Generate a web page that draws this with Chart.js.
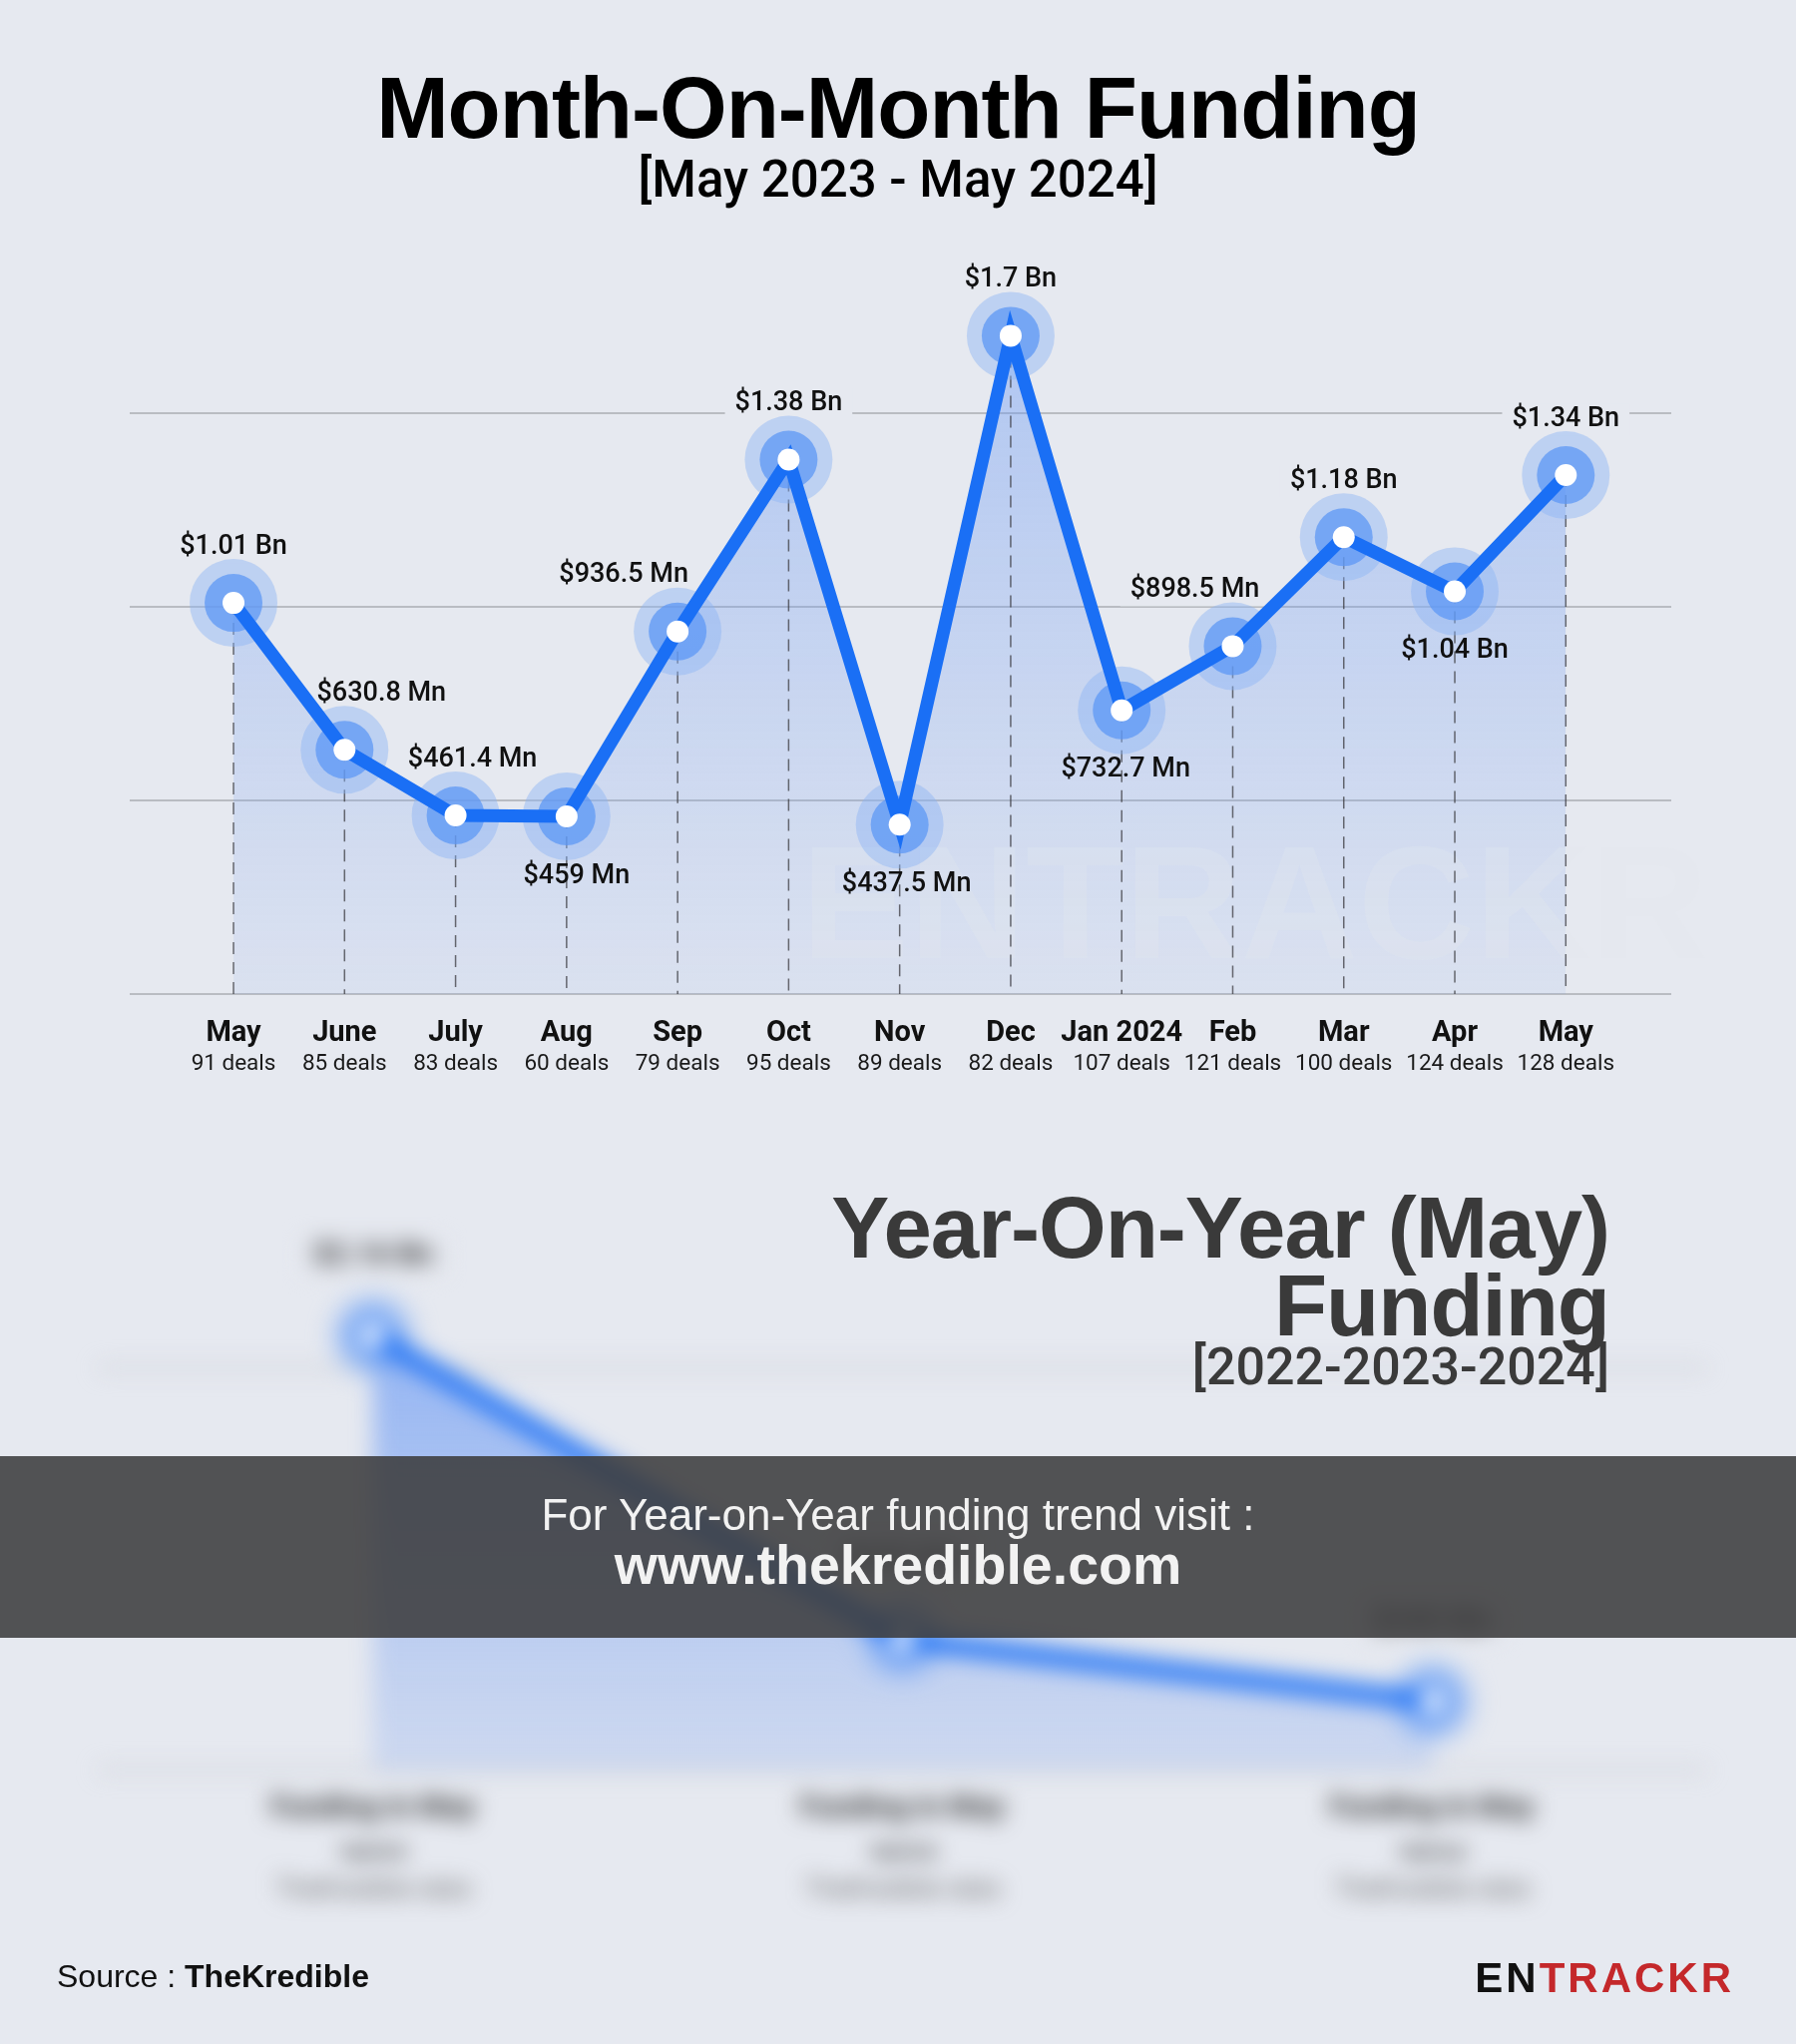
<!DOCTYPE html>
<html>
<head>
<meta charset="utf-8">
<script src="https://cdn.jsdelivr.net/npm/chart.js@4.4.1/dist/chart.umd.min.js"></script>
<style>
  html, body { margin: 0; padding: 0; }
  body { width: 1800px; height: 2048px; background: #e6e9f0; position: relative; overflow: hidden; font-family: 'Liberation Sans', Arial, sans-serif; }
  canvas { position: absolute; left: 0; }
  .abs { position: absolute; white-space: nowrap; }
  #t1 { top: 64px; left: 0; width: 1800px; text-align: center; font-size: 87px; line-height: 87px; font-weight: bold; letter-spacing: -1px; color: #000; }
  #t2 { top: 154px; left: 0; width: 1800px; text-align: center; font-family: Roboto, sans-serif; font-size: 51px; line-height: 51px; font-weight: 500; color: #000; }
  #yoy { top: 1150px; filter: blur(11px); }
  #yt { top: 1191px; right: 187px; text-align: right; font-size: 87px; line-height: 78px; font-weight: bold; letter-spacing: -1px; color: #3a3a3a; }
  #ys { top: 1344px; right: 187px; text-align: right; font-family: Roboto, sans-serif; font-size: 52px; line-height: 52px; font-weight: 500; color: #3a3a3a; }
  #banner { top: 1459px; left: 0; width: 1800px; height: 182px; background: rgba(60, 60, 62, 0.88); }
  #b1 { top: 1496px; left: 0; width: 1800px; text-align: center; font-size: 44px; line-height: 44px; color: #f2f2f2; }
  #b2 { top: 1541px; left: 0; width: 1800px; text-align: center; font-size: 55.5px; line-height: 55.5px; font-weight: bold; color: #f2f2f2; }
  #src { top: 1964px; left: 57px; font-size: 32px; line-height: 32px; color: #111; }
  #logo { top: 1961px; right: 62px; font-size: 42px; line-height: 42px; font-weight: bold; letter-spacing: 3px; color: #111; }
  #logo span { color: #c4282b; }
</style>
</head>
<body>
<div id="t1" class="abs">Month-On-Month Funding</div>
<div id="t2" class="abs">[May 2023 - May 2024]</div>
<canvas id="mom" width="1800" height="1120" style="top:0"></canvas>
<canvas id="yoy" width="1800" height="800"></canvas>
<div id="yt" class="abs">Year-On-Year (May)<br>Funding</div>
<div id="ys" class="abs">[2022-2023-2024]</div>
<div id="banner" class="abs"></div>
<div id="b1" class="abs">For Year-on-Year funding trend visit :</div>
<div id="b2" class="abs">www.thekredible.com</div>
<div id="src" class="abs">Source : <b>TheKredible</b></div>
<div id="logo" class="abs">EN<span>TRACKR</span></div>
<script>
// month-on-month data (USD Mn)
const months = ['May', 'June', 'July', 'Aug', 'Sep', 'Oct', 'Nov', 'Dec', 'Jan 2024', 'Feb', 'Mar', 'Apr', 'May'];
const deals = [91, 85, 83, 60, 79, 95, 89, 82, 107, 121, 100, 124, 128];
const fundingMn = [1010, 630.8, 461.4, 459, 936.5, 1380, 437.5, 1700, 732.7, 898.5, 1180, 1040, 1340];
const gridValues = [0, 500, 1000, 1500];

// year-on-year (blurred teaser)
const yoyYears = ['2022', '2023', '2024'];
const yoyFundingMn = [2160, 650, 340];

const bgColor = '#e6e9f0';
const lineBlue = '#1a6ff5';

function labelText(v) {
    return v >= 1000 ? '$' + parseFloat((v / 1000).toFixed(2)) + ' Bn' : '$' + v + ' Mn';
}

// where each value label sits: [x shift, above(-1) / below(1)]
const momLabelPlace = [[0, -1], [37, -1], [17, -1], [10, 1], [-54, -1], [0, -1], [7, 1], [0, -1], [4, 1], [-38, -1], [0, -1], [0, 1], [0, -1]];

function fillGradient(topAlpha, botAlpha) {
    return function (ctx) {
        const chart = ctx.chart;
        const area = chart.chartArea;
        if (!area) return 'rgba(110,160,245,0.3)';
        const g = chart.ctx.createLinearGradient(0, area.top + 100, 0, area.bottom);
        g.addColorStop(0, 'rgba(100,150,245,' + topAlpha + ')');
        g.addColorStop(1, 'rgba(120,160,240,' + botAlpha + ')');
        return g;
    };
}

function decorPlugin(opts) {
    return {
        id: 'decor',
        beforeDatasetsDraw(chart) {
            const c = chart.ctx;
            const meta = chart.getDatasetMeta(0);
            const bottom = chart.chartArea.bottom;
            c.save();
            if (opts.watermark) {
                c.font = 'bold 162px "Liberation Sans"';
                c.fillStyle = 'rgba(228,230,235,0.26)';
                c.textBaseline = 'alphabetic';
                c.fillText('ENTRACKR', 803, 960);
            }
            if (opts.dashes) {
                c.strokeStyle = 'rgba(60,60,65,0.75)';
                c.lineWidth = 1.5;
                c.setLineDash([12, 8]);
                meta.data.forEach(p => {
                    c.beginPath();
                    c.moveTo(p.x, p.y);
                    c.lineTo(p.x, bottom);
                    c.stroke();
                });
                c.setLineDash([]);
            }
            // background patches behind labels that sit above the line
            c.font = opts.font;
            meta.data.forEach((p, i) => {
                const pl = opts.place[i];
                if (pl[1] > 0) return;
                const w = c.measureText(opts.texts[i]).width + 20;
                c.fillStyle = bgColor;
                c.fillRect(p.x + pl[0] - w / 2, p.y - opts.dy - 16, w, 32);
            });
            c.restore();
        },
        afterDatasetsDraw(chart) {
            const c = chart.ctx;
            const meta = chart.getDatasetMeta(0);
            c.save();
            c.font = opts.font;
            c.fillStyle = opts.color;
            c.textAlign = 'center';
            c.textBaseline = 'middle';
            meta.data.forEach((p, i) => {
                const pl = opts.place[i];
                const dy = pl[1] < 0 ? opts.dy : opts.dyDown;
                c.fillText(opts.texts[i], p.x + pl[0], p.y + dy * pl[1]);
            });
            c.restore();
        }
    };
}

function lineDatasets(points, fill, width) {
    return [
        { data: points, borderColor: lineBlue, borderWidth: width, fill: 'origin', backgroundColor: fill,
          pointRadius: 11, pointBackgroundColor: '#ffffff', pointBorderWidth: 0, tension: 0, order: 1 },
        { data: points, showLine: false, pointRadius: 29, pointBackgroundColor: 'rgba(90,150,245,0.72)', pointBorderWidth: 0, order: 2 },
        { data: points, showLine: false, pointRadius: 44, pointBackgroundColor: 'rgba(140,180,245,0.45)', pointBorderWidth: 0, order: 3 }
    ];
}

function bottomAxis(min, max, setTicks, height, padding, font, color, texts) {
    return {
        type: 'linear', position: 'bottom', min: min, max: max,
        grid: { display: false, drawTicks: false }, border: { display: false },
        afterBuildTicks: setTicks,
        afterFit: scale => { scale.height = height; },
        ticks: { autoSkip: false, maxRotation: 0, minRotation: 0, padding: padding, color: color,
                 font: font, callback: (v, i) => texts[i] }
    };
}

// ---------- month-on-month chart ----------
const momPoints = fundingMn.map((v, i) => ({ x: i, y: v }));
const dealLabels = deals.map(d => d + ' deals');
const setMonthTicks = scale => { scale.ticks = months.map((m, i) => ({ value: i })); };

new Chart(document.getElementById('mom'), {
    type: 'line',
    data: { datasets: lineDatasets(momPoints, fillGradient(0.42, 0.1), 13) },
    options: {
        responsive: false,
        animation: false,
        events: [],
        layout: { padding: { left: 130, right: 125, top: 220, bottom: 36 } },
        plugins: {
            legend: { display: false },
            tooltip: { enabled: false },
            filler: { drawTime: 'beforeDatasetsDraw' }
        },
        scales: {
            x: bottomAxis(-0.935, 12.95, setMonthTicks, 55, 22,
                          { family: 'Roboto', size: 29, weight: 'bold' }, '#111', months),
            x2: bottomAxis(-0.935, 12.95, setMonthTicks, 33, 2,
                           { family: 'Roboto', size: 22.5 }, '#1a1a1a', dealLabels),
            y: {
                min: 0, max: 2000,
                afterBuildTicks: scale => { scale.ticks = gridValues.map(v => ({ value: v })); },
                grid: { color: '#b9bcc2', lineWidth: 2, drawTicks: false },
                border: { display: false },
                ticks: { display: false }
            }
        }
    },
    plugins: [decorPlugin({
        watermark: true, dashes: true,
        texts: fundingMn.map(labelText), place: momLabelPlace,
        dy: 56, dyDown: 60,
        font: '500 27px Roboto', color: '#111'
    })]
});

// ---------- blurred year-on-year teaser ----------
const yoyPoints = yoyFundingMn.map((v, i) => ({ x: i, y: v }));
const yoyTickTop = yoyYears.map(y => ['Funding in May', y]);
const yoyTickBottom = yoyYears.map(() => 'TheKredible data');
const setYearTicks = scale => { scale.ticks = yoyYears.map((y, i) => ({ value: i })); };

new Chart(document.getElementById('yoy'), {
    type: 'line',
    data: { datasets: lineDatasets(yoyPoints, fillGradient(0.6, 0.22), 18) },
    options: {
        responsive: false,
        animation: false,
        events: [],
        layout: { padding: { left: 98, right: 89, top: 120, bottom: 37 } },
        plugins: {
            legend: { display: false },
            tooltip: { enabled: false },
            filler: { drawTime: 'beforeDatasetsDraw' }
        },
        scales: {
            x: bottomAxis(-0.52, 2.52, setYearTicks, 90, 13.5,
                          { family: 'Roboto', size: 30, weight: 'bold', lineHeight: 1.7 }, '#333', yoyTickTop),
            x2: bottomAxis(-0.52, 2.52, setYearTicks, 50, 15.4,
                           { family: 'Roboto', size: 26 }, '#666', yoyTickBottom),
            y: {
                min: 0, max: 2500,
                afterBuildTicks: scale => { scale.ticks = [0, 2000].map(v => ({ value: v })); },
                grid: { color: '#c8cbd1', lineWidth: 4, drawTicks: false },
                border: { display: false },
                ticks: { display: false }
            }
        }
    },
    plugins: [decorPlugin({
        watermark: false, dashes: false,
        texts: yoyFundingMn.map(labelText), place: [[0, -1], [0, -1], [0, -1]],
        dy: 80, dyDown: 80,
        font: 'bold 30px Roboto', color: '#333'
    })]
});
</script>
</body>
</html>
